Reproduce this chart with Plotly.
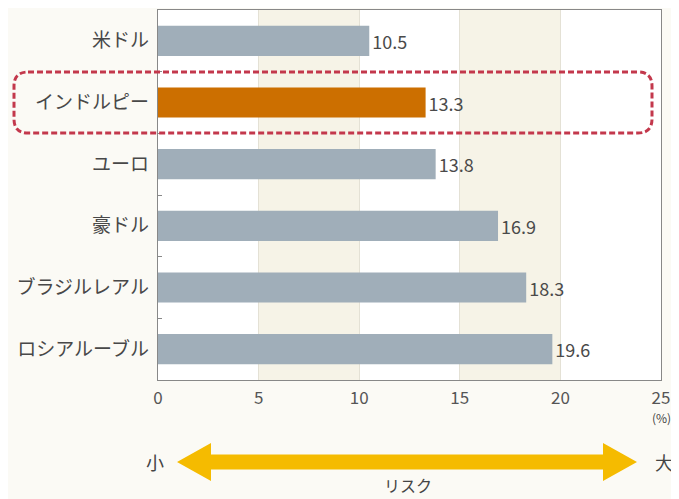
import plotly.graph_objects as go

categories = ["米ドル", "インドルピー", "ユーロ", "豪ドル", "ブラジルレアル", "ロシアルーブル"]
values = [10.5, 13.3, 13.8, 16.9, 18.3, 19.6]
highlight = "インドルピー"
x_ticks = [0, 5, 10, 15, 20, 25]

# page has an 8px body margin; work in page pixel coordinates
OFF = 8
PAGE_W, PAGE_H = 679, 499
W, H = PAGE_W - OFF, PAGE_H - OFF
L, R, T, B = 158, 661, 10, 380  # plot area in page pixels

def px(x):
    return (x - L) / (R - L)

def py(y):
    return (B - y) / (B - T)

GRAY = "#a0aeb9"
ORANGE = "#cc6f00"
colors = [ORANGE if c == highlight else GRAY for c in categories]

fig = go.Figure()
fig.add_trace(go.Bar(
    y=categories, x=values, orientation="h",
    marker=dict(color=colors, line=dict(width=0)),
    width=0.49,
    text=[f"{v:.1f}" for v in values], textposition="outside",
    textfont=dict(size=18, color="#4a4a4a"),
    cliponaxis=False, hoverinfo="skip",
))

shapes = []
for a, b in [(5, 10), (15, 20)]:
    shapes.append(dict(type="rect", xref="x", yref="paper", x0=a, x1=b, y0=0, y1=1,
                       fillcolor="#f6f3e7", line=dict(width=0), layer="below"))
# rounded dashed rectangle
x0, x1, y0, y1 = px(14), px(652), py(133), py(72)
rx, ry = 14 / (R - L), 14 / (B - T)
path = (f"M {x0+rx},{y1} L {x1-rx},{y1} Q {x1},{y1} {x1},{y1-ry} L {x1},{y0+ry} "
        f"Q {x1},{y0} {x1-rx},{y0} L {x0+rx},{y0} Q {x0},{y0} {x0},{y0+ry} "
        f"L {x0},{y1-ry} Q {x0},{y1} {x0+rx},{y1} Z")
shapes.append(dict(type="path", xref="paper", yref="paper", path=path,
                   line=dict(color="#c3384c", width=3, dash="6px,3px"), layer="above"))
# double arrow
ay = py(462)
hs, hh = 7.5 / (B - T), 19 / (B - T)
lt, lb, rb, rt = px(177), px(211), px(603), px(637)
apath = (f"M {lt},{ay} L {lb},{ay+hh} L {lb},{ay+hs} L {rb},{ay+hs} L {rb},{ay+hh} "
         f"L {rt},{ay} L {rb},{ay-hh} L {rb},{ay-hs} L {lb},{ay-hs} L {lb},{ay-hh} Z")
shapes.append(dict(type="path", xref="paper", yref="paper", path=apath,
                   fillcolor="#f5bb00", line=dict(width=0)))

def ann(text, x, y, size, xref="paper"):
    return dict(text=text, x=x, xref=xref, y=y, yref="paper", showarrow=False,
                xanchor="center", yanchor="middle",
                font=dict(size=size, color="#444444"))

annotations = [
    ann("(%)", 25, py(417), 12, xref="x"),
    ann("小", px(155), py(462), 18),
    ann("大", px(664), py(462), 18),
    ann("リスク", px(408), py(485), 16),
]

fig.update_layout(
    width=W, height=H,
    margin=dict(l=L - OFF, r=(W + OFF) - R, t=T - OFF, b=(H + OFF) - B, pad=0),
    paper_bgcolor="#fbfaf5", plot_bgcolor="#ffffff",
    font=dict(family="Noto Sans CJK JP", color="#444444"),
    showlegend=False,
    shapes=shapes, annotations=annotations,
    bargap=0.5,
)
fig.update_xaxes(range=[0, 25], tickvals=x_ticks, showgrid=True, gridcolor="#e4e1d5",
                 gridwidth=1, zeroline=False, showline=True, linecolor="#888888",
                 linewidth=1, mirror=True, ticks="", tickfont=dict(size=17, color="#555555"),
                 ticklabelstandoff=3, fixedrange=True)
fig.update_yaxes(categoryorder="array", categoryarray=categories, autorange="reversed",
                 showline=True, linecolor="#888888", linewidth=1, mirror=True,
                 ticks="inside", tickson="boundaries", ticklen=4, tickcolor="#888888",
                 showgrid=False, tickfont=dict(size=19, color="#484848"), ticksuffix=" ",
                 fixedrange=True)

fig.write_html("out.html")
